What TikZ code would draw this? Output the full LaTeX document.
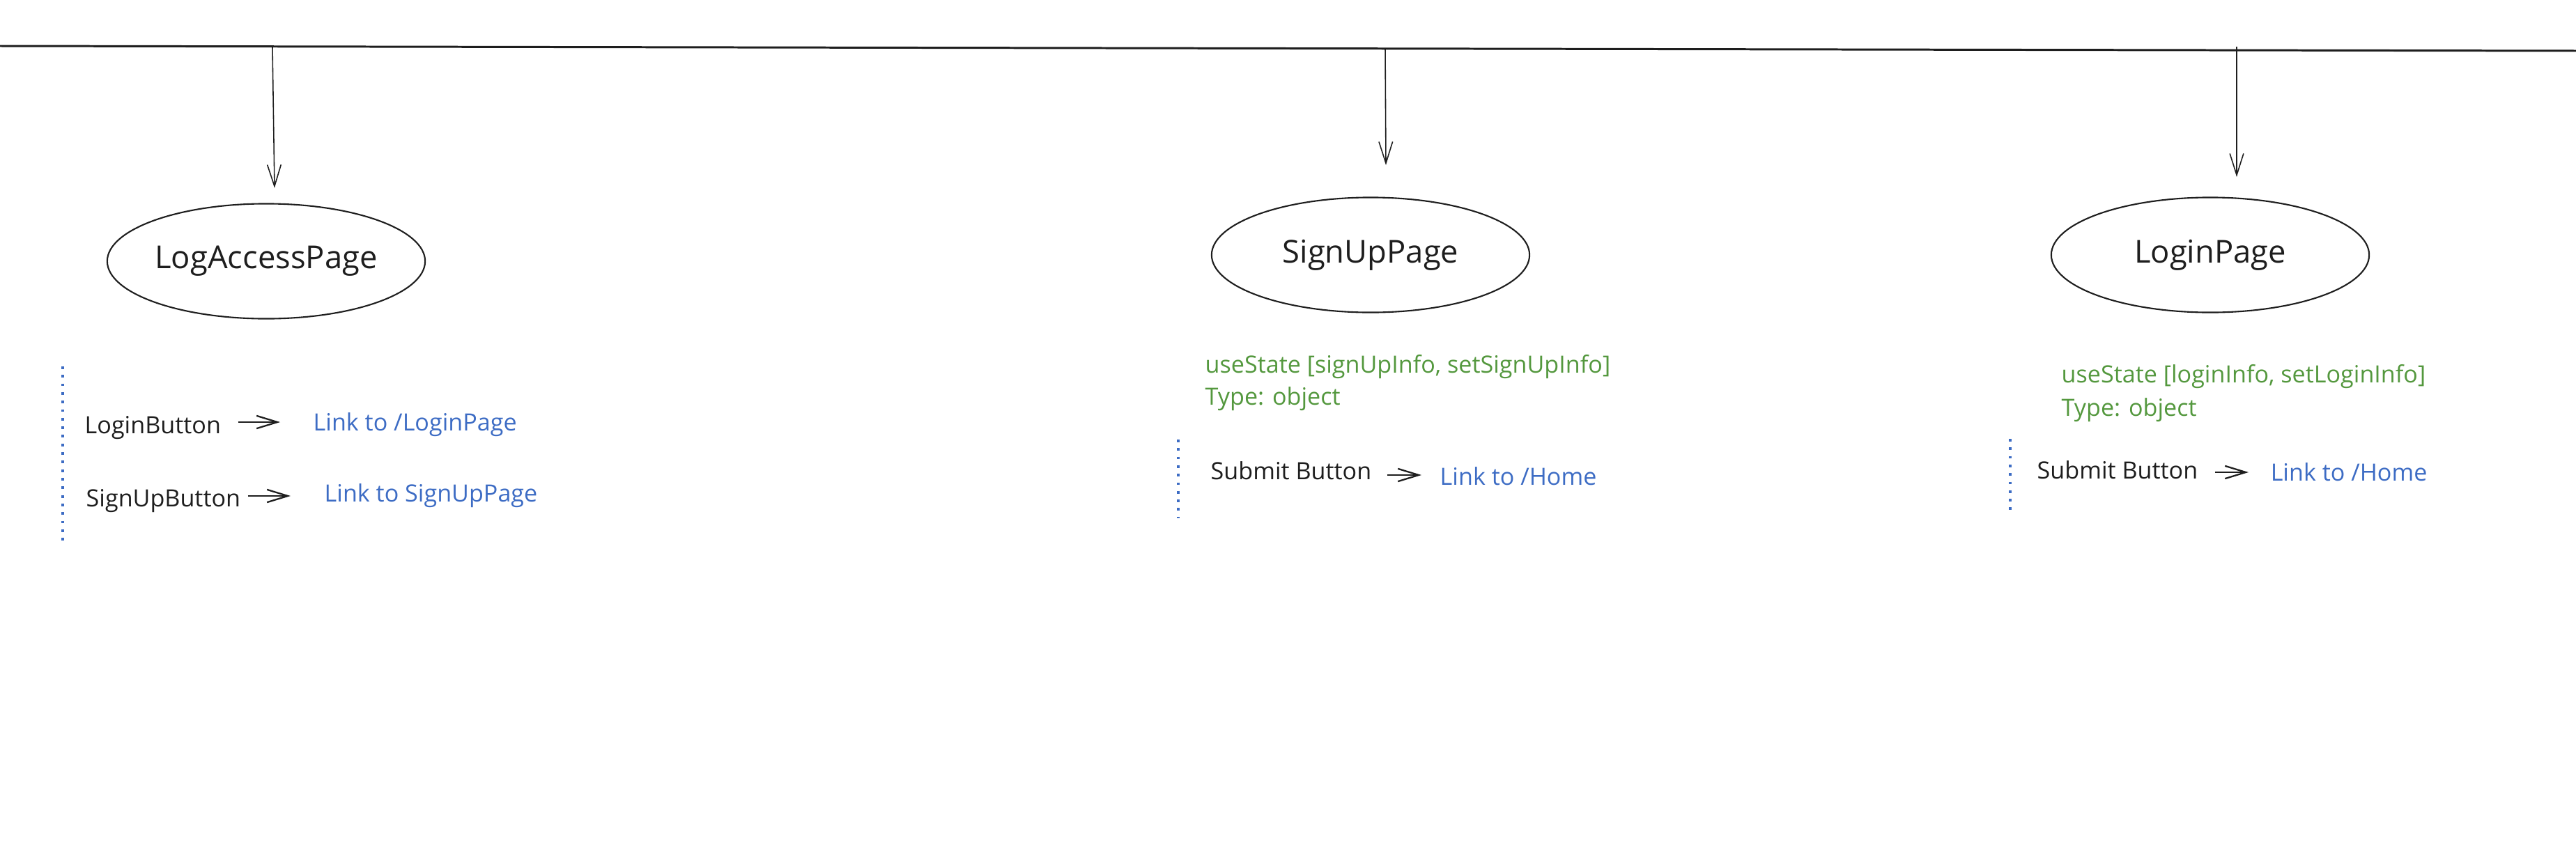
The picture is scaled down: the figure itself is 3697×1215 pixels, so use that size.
\documentclass[tikz,border=0pt]{standalone}
\usepackage{fontspec}
\setmainfont{Open Sans}
\usetikzlibrary{arrows.meta,shapes.geometric}
\definecolor{ink}{RGB}{30,30,30}
\definecolor{linkblue}{RGB}{61,108,196}
\definecolor{stategreen}{RGB}{84,152,62}
\tikzset{
	page/.style={ellipse, draw=ink, line width=0.6pt, minimum width=4.56cm, minimum height=1.65cm, inner sep=0pt, text=ink, font=\fontsize{12.9}{15}\selectfont},
	label/.style={anchor=base west, inner sep=0pt, font=\fontsize{9.7}{11.5}\selectfont},
	btn/.style={label, text=ink},
	lnk/.style={label, text=linkblue},
	state/.style={label, text=stategreen},
	pagearrow/.style={draw=ink, line width=0.45pt, -{Straight Barb[length=8.8pt, width=5.6pt]}},
	linkarrow/.style={draw=ink, line width=0.65pt, -{Straight Barb[length=8.5pt, width=5.2pt]}},
	dots/.style={draw=linkblue, line width=0.9pt, dash pattern=on 1.1pt off 2.4pt}
}
\begin{document}
\begin{tikzpicture}[x=0.01cm, y=-0.01cm]
			%%%%% START %%%%%
			\useasboundingbox (0, 0) rectangle (3697, 1215);
			
			\draw[ink, line width=0.85pt] (0, 66) -- (3697, 73);
			
			% pages
			\node[page] (logaccess) at (382, 375) {LogAccessPage};
			\node[page] (signup) at (1967, 366) {SignUpPage};
			\node[page] (login) at (3172, 366) {LoginPage};
			
			\coordinate (drop1) at (391, 67);
			\coordinate (tip1) at (394, 270);
			\coordinate (drop2) at (1988, 70);
			\coordinate (tip2) at (1989, 237);
			\coordinate (drop3) at (3210, 67);
			\coordinate (tip3) at (3210, 254);
			\draw[pagearrow] (drop1) -- (tip1);
			\draw[pagearrow] (drop2) -- (tip2);
			\draw[pagearrow] (drop3) -- (tip3);
			
			% LogAccessPage
			\draw[dots] (90, 526) -- (90, 778);
			\node[btn] (loginbtn) at (121, 622) {LoginButton};
			\node[lnk] (loginlink) at (449, 618) {Link to /LoginPage};
			\node[btn] (signupbtn) at (123, 727) {SignUpButton};
			\node[lnk] (signuplink) at (465, 720) {Link to SignUpPage};
			\draw[linkarrow] ([shift={(24,-16)}]loginbtn.base east) -- ([shift={(-47,-12)}]loginlink.base west);
			\draw[linkarrow] ([shift={(10,-15)}]signupbtn.base east) -- ([shift={(-48,-8)}]signuplink.base west);
			
			% SignUpPage
			\node[state] (signupstate) at (1729, 535) {useState [signUpInfo, setSignUpInfo]};
			\node[state] (signuptype) at (1729, 581) {Type: object};
			\draw[dots] (1691, 631) -- (1691, 744);
			\node[btn] (submit1) at (1737, 688) {Submit Button};
			\node[lnk] (home1) at (2066, 696) {Link to /Home};
			\draw[linkarrow] ([shift={(22,-6)}]submit1.base east) -- ([shift={(-26,-14)}]home1.base west);
			
			% LoginPage
			\node[state] (loginstate) at (2958, 549) {useState [loginInfo, setLoginInfo]};
			\node[state] (logintype) at (2958, 597) {Type: object};
			\draw[dots] (2885, 630) -- (2885, 740);
			\node[btn] (submit2) at (2923, 687) {Submit Button};
			\node[lnk] (home2) at (3258, 690) {Link to /Home};
			\draw[linkarrow] ([shift={(24,-9)}]submit2.base east) -- ([shift={(-31,-12)}]home2.base west);
			
			%%%%% END %%%%%
\end{tikzpicture}
\end{document}
